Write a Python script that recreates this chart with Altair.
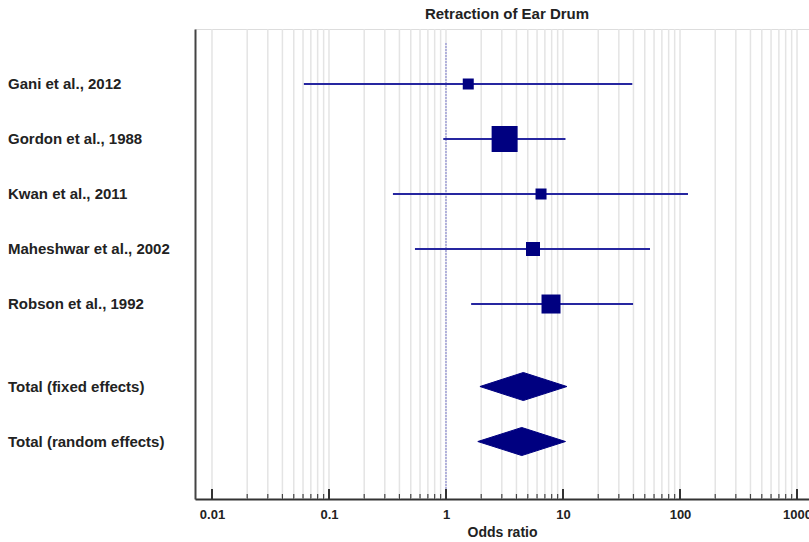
import altair as alt
import pandas as pd

# ---- data ----
studies = ["Gani et al., 2012", "Gordon et al., 1988", "Kwan et al., 2011",
           "Maheshwar et al., 2002", "Robson et al., 1992"]
study_rows = [0, 1, 2, 3, 4]
or_est = [1.55, 3.17, 6.49, 5.54, 7.9]
ci_lo = [0.061, 0.948, 0.352, 0.543, 1.64]
ci_hi = [39.1, 10.5, 117, 55.4, 39.7]
weights = [8.2, 45.8, 8.2, 13.3, 24.5]

totals = ["Total (fixed effects)", "Total (random effects)"]
tot_rows = [5.5, 6.5]
tot_est = [4.58, 4.44]
tot_lo = [1.95, 1.87]
tot_hi = [10.8, 10.5]

decades = [0.01, 0.1, 1, 10, 100, 1000]
grid_vals = [m * d for d in [0.01, 0.1, 1, 10, 100] for m in range(1, 10)] + [1000]
minor_vals = [v for v in grid_vals if v not in decades]

FONT = "Liberation Sans"
W, H = 614, 470
XDOM = [0.00716, 1266]
YDOM = [-1, 7.545]
DIAMOND_HALF = 0.255  # half-height of pooled diamonds, in row units

xs = alt.Scale(type="log", domain=XDOM, nice=False, clamp=False)
ys = alt.Scale(domain=YDOM, reverse=True, nice=False, zero=False)

studies_df = pd.DataFrame({"label": studies, "row": study_rows, "est": or_est,
                           "lo": ci_lo, "hi": ci_hi, "w": weights})
labels_df = pd.DataFrame({"label": studies + totals, "row": study_rows + tot_rows})

# closed polygon outline for each pooled diamond
poly = []
for name, r, e, lo, hi in zip(totals, tot_rows, tot_est, tot_lo, tot_hi):
    pts = [(lo, r), (e, r - DIAMOND_HALF), (hi, r), (e, r + DIAMOND_HALF), (lo, r)]
    for k, (px, py) in enumerate(pts):
        poly.append({"grp": name, "k": k, "px": px, "py": py})
poly_df = pd.DataFrame(poly)

grid_df = pd.DataFrame({"v": grid_vals})
major_df = pd.DataFrame({"v": decades})
minor_df = pd.DataFrame({"v": minor_vals})
one_df = pd.DataFrame({"v": [1]})

xaxis = alt.Axis(values=decades, grid=False, ticks=False, tickSize=0, format="~g",
                 labelFont=FONT, labelFontWeight="bold", labelFontSize=13,
                 labelColor="#222222", labelPadding=9, labelFlush=False,
                 labelOverlap=False, labelBound=False,
                 domainColor="#333333", domainWidth=2,
                 title="Odds ratio", titleFont=FONT, titleFontWeight="bold",
                 titleFontSize=14, titleColor="#222222", titlePadding=4)
yaxis = alt.Axis(labels=False, ticks=False, grid=False, title=None,
                 domainColor="#444444", domainWidth=2)

grid = alt.Chart(grid_df).mark_rule(color="#e4e4e4", strokeWidth=1.5).encode(
    x=alt.X("v:Q", scale=xs, axis=xaxis))

ref = alt.Chart(one_df).mark_rule(color="#7a7acc", strokeWidth=1, strokeDash=[2, 1]).encode(
    x=alt.X("v:Q", scale=xs), y=alt.value(14), y2=alt.value(H))

tick_major = alt.Chart(major_df).mark_rule(color="#333333", strokeWidth=2).encode(
    x=alt.X("v:Q", scale=xs), y=alt.value(H - 10), y2=alt.value(H))
tick_minor = alt.Chart(minor_df).mark_rule(color="#444444", strokeWidth=1.2).encode(
    x=alt.X("v:Q", scale=xs), y=alt.value(H - 5), y2=alt.value(H))

ci = alt.Chart(studies_df).mark_rule(color="#2626a0", strokeWidth=2).encode(
    x=alt.X("lo:Q", scale=xs), x2="hi:Q",
    y=alt.Y("row:Q", scale=ys, axis=yaxis))

squares = alt.Chart(studies_df).mark_square(color="#000080", opacity=1).encode(
    x=alt.X("est:Q", scale=xs), y=alt.Y("row:Q", scale=ys),
    size=alt.Size("w:Q", scale=alt.Scale(domain=[0, 100], range=[0, 1476]), legend=None))

diamonds = alt.Chart(poly_df).mark_line(stroke="#000080", fill="#000080", strokeWidth=1,
                                        fillOpacity=1, strokeJoin="miter").encode(
    x=alt.X("px:Q", scale=xs), y=alt.Y("py:Q", scale=ys),
    detail="grp:N", order=alt.Order("k:Q"))

labels = alt.Chart(labels_df).mark_text(align="left", baseline="middle", font=FONT,
                                        fontWeight="bold", fontSize=15,
                                        color="#222222").encode(
    x=alt.value(-187), y=alt.Y("row:Q", scale=ys), text="label:N")

chart = alt.layer(grid, ref, tick_major, tick_minor, ci, squares, diamonds, labels).properties(
    width=W, height=H,
    title=alt.TitleParams("Retraction of Ear Drum", font=FONT, fontWeight="bold",
                          fontSize=15, color="#222222", anchor="middle", offset=6, dx=5),
    autosize=alt.AutoSizeParams(type="none"),
    padding={"left": 195, "top": 29, "right": 0, "bottom": 43},
).configure_view(stroke=None).configure(background="white")

chart.save("out.html", embed_options={"renderer": "svg", "actions": False})
